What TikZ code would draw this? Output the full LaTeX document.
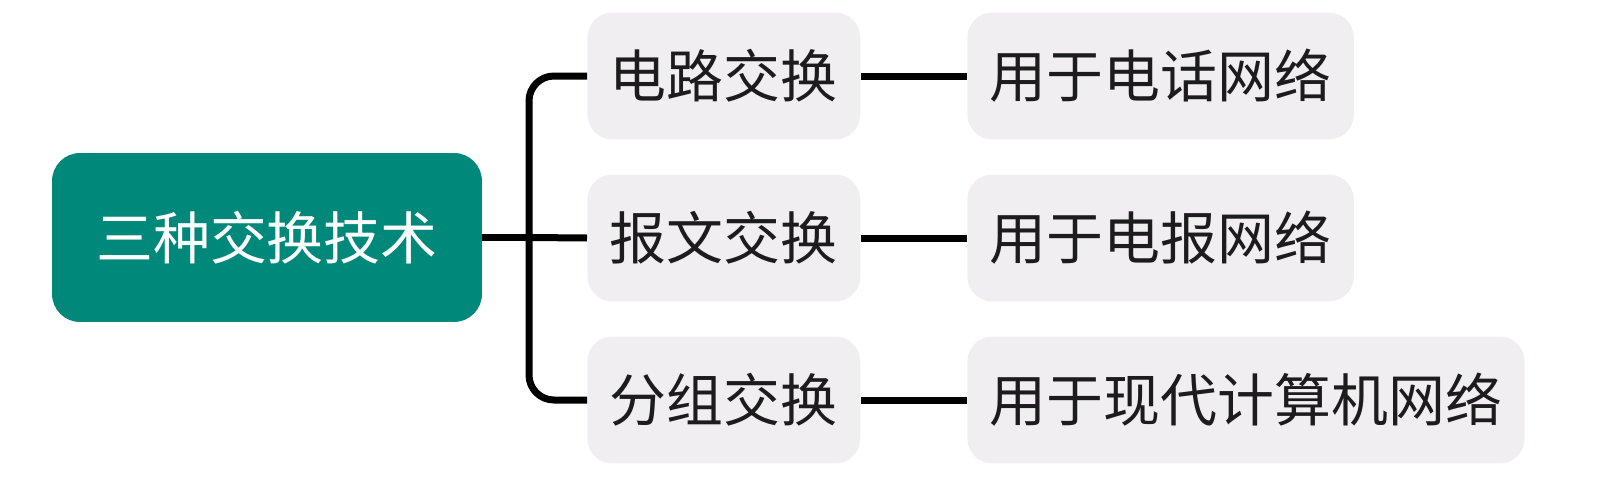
\documentclass[tikz,border=0pt]{standalone}
\usepackage{fontspec}
\setmainfont{Noto Sans CJK SC}
\usetikzlibrary{positioning}

\definecolor{racine}{HTML}{00897B}
\definecolor{fond}{HTML}{F0EEF1}
\definecolor{encre}{HTML}{1C1C1C}

\tikzset{
  racinebox/.style={fill=racine, text=white, rounded corners=0.56cm,
    minimum width=8.6cm, minimum height=3.38cm, inner sep=0pt},
  techbox/.style={fill=fond, text=encre, rounded corners=0.5cm,
    minimum width=5.46cm, minimum height=2.54cm, inner sep=0pt, anchor=west},
  usagebox/.style={fill=fond, text=encre, rounded corners=0.5cm,
    inner xsep=0.45cm, minimum height=2.54cm, inner ysep=0pt, anchor=west},
  lien/.style={draw=black, line width=0.14cm, rounded corners=0.5cm}
}

\begin{document}
\begin{tikzpicture}[x=0.02cm,y=-0.02cm,font=\fontsize{32.4pt}{38pt}\selectfont]

\useasboundingbox (0,0) rectangle (1597,487);

% -----------------------
% Racine
% -----------------------
\node[racinebox] (R) at (267,237.5) {三种交换技术};

% -----------------------
% Techniques
% -----------------------
\node[techbox] (T1) at (587,76) {电路交换};
\node[techbox] (T2) at (587,238) {报文交换};
\node[techbox] (T3) at (587,400) {分组交换};

% -----------------------
% Usages
% -----------------------
\node[usagebox] (U1) at (967,76) {用于电话网络};
\node[usagebox] (U2) at (967,238) {用于电报网络};
\node[usagebox] (U3) at (967,400) {用于现代计算机网络};

% -----------------------
% Liens
% -----------------------
\coordinate (F) at (529,237.5);
\draw[lien] (R.east) -- (F);
\draw[lien] (F) |- (T1.west);
\draw[lien] (F) -- (T2.west);
\draw[lien] (F) |- (T3.west);

\draw[lien] (T1) -- (U1);
\draw[lien] (T2) -- (U2);
\draw[lien] (T3) -- (U3);

\end{tikzpicture}
\end{document}
